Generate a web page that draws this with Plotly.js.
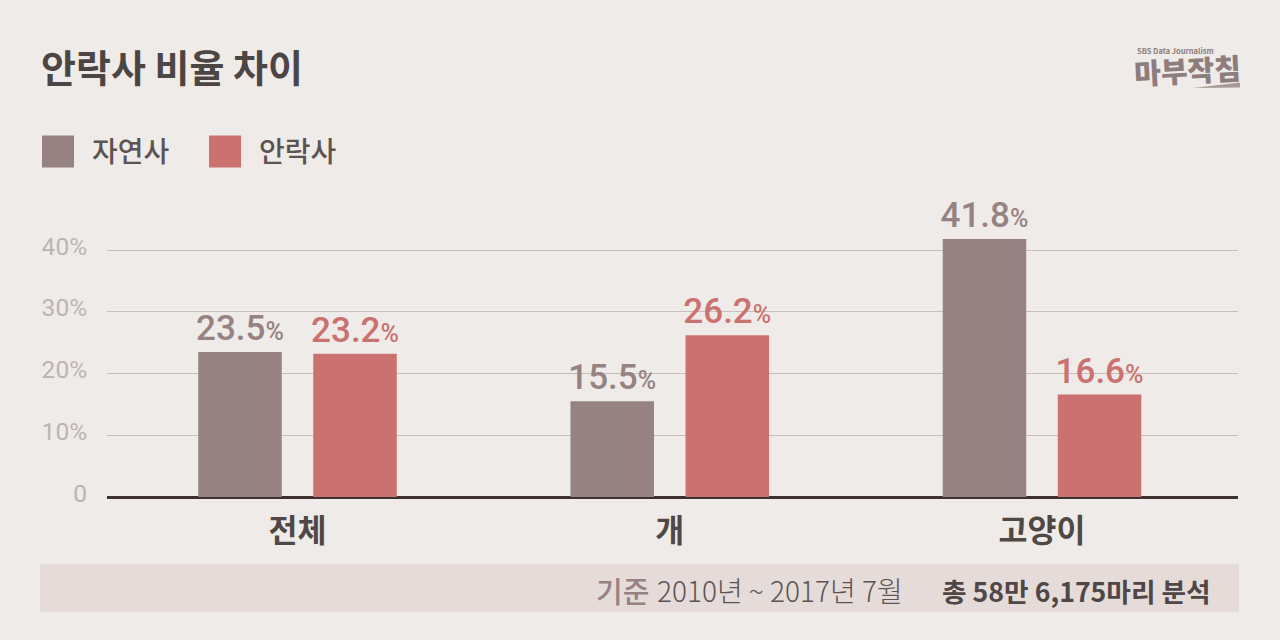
<!DOCTYPE html>
<html><head><meta charset="utf-8">
<script src="https://cdn.plot.ly/plotly-3.0.1.min.js"></script>
<style>html,body{margin:0;padding:0;background:#efebe8}#c{width:1280px;height:640px}</style>
</head><body><div id="c"></div>
<script>
const categories = ['전체', '개', '고양이'];
const naturalValues = [23.5, 15.5, 41.8];
const euthanasiaValues = [23.2, 26.2, 16.6];
const seriesNames = ['자연사', '안락사'];
const tickValues = [0, 10, 20, 30, 40];
const tickLabels = ['0', '10%', '20%', '30%', '40%'];

const KR = '"Noto Sans CJK KR", sans-serif';
const NUM = 'Roboto, sans-serif';
const W = 1280, H = 640;
const L = 107, R = 1238, B = 496.7, T = 219.5;
const catStep = 372.25, firstCat = 297.5;
const pctTpl = '%{y:.1f}<span style="font-size:25px">%</span>';

function series(name, y, color) {
  return {
    type: 'bar', name, x: [0, 1, 2], y,
    marker: {color, line: {width: 0}},
    texttemplate: pctTpl, textposition: 'outside', cliponaxis: false, constraintext: 'none',
    outsidetextfont: {family: NUM, size: 35, color, weight: 500},
    hoverinfo: 'x+y'
  };
}
const data = [
  series(seriesNames[0], naturalValues, '#958281'),
  series(seriesNames[1], euthanasiaValues, '#cb7170')
];
function txt(text, x, y, size, color, anchor, weight, extra) {
  return Object.assign({text, xref: 'paper', yref: 'paper', x: (x - L) / (R - L), y: (B - y) / (B - T),
    xanchor: anchor || 'left', yanchor: 'middle', showarrow: false,
    font: {family: KR, size, color, weight: weight || 400}}, extra || {});
}
function rect(x0, y0, x1, y1, color) {
  return {type: 'rect', xref: 'paper', yref: 'paper', layer: 'below',
    x0: (x0 - L) / (R - L), x1: (x1 - L) / (R - L), y0: (B - y0) / (B - T), y1: (B - y1) / (B - T),
    fillcolor: color, line: {width: 0}};
}
const layout = {
  width: W, height: H, paper_bgcolor: '#efebe8', plot_bgcolor: 'rgba(0,0,0,0)',
  margin: {l: L, r: W - R, t: T, b: H - B, pad: 0},
  showlegend: false, barmode: 'group', bargap: 0.382, bargroupgap: 0.274,
  title: {text: '안락사 비율 차이', x: 41 / W, xref: 'container', xanchor: 'left', y: 1 - 69 / H, yref: 'container', yanchor: 'middle',
    font: {family: KR, size: 38, color: '#4b4543', weight: 700}},
  xaxis: {range: [(L - firstCat) / catStep, (R - firstCat) / catStep], tickmode: 'array', tickvals: [0, 1, 2], ticktext: categories,
    showgrid: false, zeroline: false, showline: false, ticks: 'outside', ticklen: 6, tickcolor: 'rgba(0,0,0,0)',
    tickfont: {family: KR, size: 31.5, color: '#4f4845', weight: 700}},
  yaxis: {range: [0, (B - T) / 6.175], tickmode: 'array', tickvals: tickValues, ticktext: tickLabels,
    showgrid: true, gridcolor: '#c6bfbb', gridwidth: 1.2, zeroline: true, zerolinecolor: '#3b3230', zerolinewidth: 3,
    showline: false, ticks: 'outside', ticklen: 14, tickcolor: 'rgba(0,0,0,0)', ticklabelshift: -4,
    tickfont: {family: NUM, size: 24.5, color: '#bdb4b1', weight: 400}},
  shapes: [
    rect(42, 135, 74, 167, '#958281'),
    rect(209, 135, 241, 167, '#cb7170'),
    rect(40, 563.5, 1239, 612, '#e5dcd9'),
    {type: 'path', xref: 'paper', yref: 'paper', layer: 'below', fillcolor: '#a99a98', line: {width: 0},
     path: `M ${(1193 - L) / (R - L)} ${(B - 87.5) / (B - T)} L ${(1240 - L) / (R - L)} ${(B - 82) / (B - T)} L ${(1240 - L) / (R - L)} ${(B - 87) / (B - T)} Z`}
  ],
  annotations: [
    txt(seriesNames[0], 90, 149.5, 28, '#5c5351', 'left', 500),
    txt(seriesNames[1], 257, 149.5, 28, '#5c5351', 'left', 500),
    txt('SBS Data Journalism', 1135, 50, 7.5, '#8d7d7c', 'left', 700),
    txt('마부작침', 1187, 68, 29, '#8d7d7c', 'center', 900, {textangle: -3}),
    txt('기준', 594, 590, 29, '#958281', 'left', 500),
    txt('2010년 ~ 2017년 7월', 655, 590, 28, '#5c5351', 'left', 300),
    txt('총 58만 6,175마리 분석', 1213, 590, 26.7, '#4f4745', 'right', 700)
  ]
};
Plotly.newPlot('c', data, layout, {displayModeBar: false, responsive: false});
</script></body></html>
